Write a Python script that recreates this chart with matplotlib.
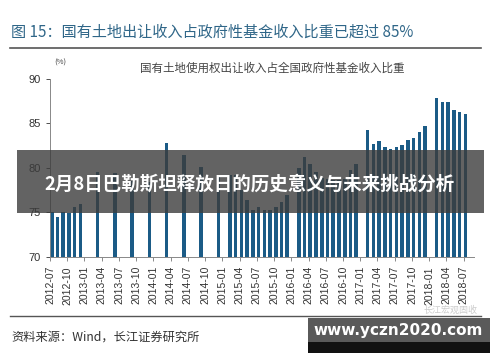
import numpy as np
import matplotlib
matplotlib.use("Agg")
import matplotlib.pyplot as plt
from matplotlib.patches import Rectangle

plt.rcParams['font.family'] = ['Noto Sans CJK SC', 'DejaVu Sans']

# 月份（从 2012-07 起的月序号）及比重 (%)
months = ['2012-07', '2012-08', '2012-09', '2012-10', '2012-11', '2012-12',
          '2013-03', '2013-06', '2013-09', '2013-12',
          '2014-03', '2014-06', '2014-09', '2014-12',
          '2015-02', '2015-03', '2015-04', '2015-05', '2015-06', '2015-07',
          '2015-08', '2015-09', '2015-10', '2015-11', '2015-12',
          '2016-02', '2016-03', '2016-04', '2016-05', '2016-06', '2016-07',
          '2016-08', '2016-09', '2016-10', '2016-11', '2016-12',
          '2017-02', '2017-03', '2017-04', '2017-05', '2017-06', '2017-07',
          '2017-08', '2017-09', '2017-10', '2017-11', '2017-12',
          '2018-02', '2018-03', '2018-04', '2018-05', '2018-06', '2018-07']
share = [75.1, 74.5, 75.1, 74.9, 75.6, 75.9,
         79.6, 79.4, 78.5, 78.4,
         82.8, 81.5, 80.1, 79.1,
         79.2, 79.2, 77.5, 76.4, 75.3, 75.6,
         75.3, 75.3, 75.6, 76.2, 77.0,
         80.0, 81.2, 80.5, 79.6, 78.9, 78.8,
         78.6, 78.6, 78.8, 79.8, 80.4,
         84.3, 82.7, 83.0, 82.4, 82.1, 82.3,
         82.6, 83.1, 83.4, 84.0, 84.75,
         87.9, 87.4, 87.4, 86.5, 86.3, 86.1]

tick_labels = ['2012-07', '2012-10', '2013-01', '2013-04', '2013-07', '2013-10',
               '2014-01', '2014-04', '2014-07', '2014-10', '2015-01', '2015-04',
               '2015-07', '2015-10', '2016-01', '2016-04', '2016-07', '2016-10',
               '2017-01', '2017-04', '2017-07', '2017-10', '2018-01', '2018-04',
               '2018-07']


def month_index(s):
    y, m = s.split('-')
    return (int(y) - 2012) * 12 + int(m) - 7


x = np.array([month_index(m) for m in months]) + 0.3
tick_pos = [month_index(t) for t in tick_labels]

fig = plt.figure(figsize=(5, 3.62), dpi=100)
fig.patch.set_facecolor('white')

ax = fig.add_axes([0.1, 0.29, 0.848, 0.492])
ax.bar(x, np.array(share) - 70, bottom=70, width=0.62, color='#1b5b86')
ax.set_ylim(70, 90)
ax.set_xlim(0, 73.8)
ax.set_yticks([70, 75, 80, 85, 90])
ax.set_xticks(tick_pos)
ax.set_xticklabels(tick_labels, rotation=90, fontsize=7.5, color='#333333',
                   family=['Liberation Sans', 'DejaVu Sans'])
ax.tick_params(axis='y', labelsize=8, colors='#333333', length=3, width=0.6)
ax.tick_params(axis='x', length=3, width=0.6, colors='#777777', labelcolor='#333333')
for lab in ax.get_yticklabels():
    lab.set_family(['Liberation Sans', 'DejaVu Sans'])
for s in ['top', 'right']:
    ax.spines[s].set_visible(False)
for s in ['left', 'bottom']:
    ax.spines[s].set_color('#888888')
    ax.spines[s].set_linewidth(0.7)

ax.text(0.525, 1.06, '国有土地使用权出让收入占全国政府性基金收入比重',
        transform=ax.transAxes, ha='center', va='center', fontsize=8.3,
        color='#444444')
fig.text(0.108, 0.826, '(%)', fontsize=5.5, color='#444444', ha='left', va='center')

# 标题与分隔线
fig.text(0.022, 0.912, '图 15：国有土地出让收入占政府性基金收入比重已超过 85%',
         fontsize=10.9, color='#2f6688', ha='left', va='center')
fig.add_artist(plt.Line2D([0.02, 0.962], [0.867, 0.867], color='#555555', lw=1.2))
fig.add_artist(plt.Line2D([0.02, 0.962], [0.128, 0.128], color='#555555', lw=1.0))
fig.text(0.022, 0.07, '资料来源：Wind，长江证券研究所', fontsize=8.8, color='#333333',
         ha='left', va='center')

# 水印横幅
fig.add_artist(Rectangle((0.034, 0.412), 0.934, 0.174, transform=fig.transFigure,
                         facecolor='#3c3c3c', alpha=0.8, edgecolor='none'))
fig.text(0.5, 0.492, '2月8日巴勒斯坦释放日的历史意义与未来挑战分析', fontsize=13.3,
         color='white', weight='bold', ha='center', va='center')

# 右下角网址
fig.add_artist(Rectangle((0.616, 0.052), 0.364, 0.07, transform=fig.transFigure,
                         facecolor='#5a5a5a', edgecolor='none'))
fig.add_artist(Rectangle((0.616, 0.025), 0.364, 0.03, transform=fig.transFigure,
                         facecolor='#111111', edgecolor='none'))
fig.text(0.955, 0.142, '长江宏观固收', fontsize=6.5, color='#aaaaaa', ha='right',
         va='center', alpha=0.6)
fig.text(0.796, 0.088, 'www.yczn2020.com', fontsize=11, color='white',
         weight='bold', ha='center', va='center', family=['DejaVu Sans'])

fig.savefig('out.png', dpi=100)
